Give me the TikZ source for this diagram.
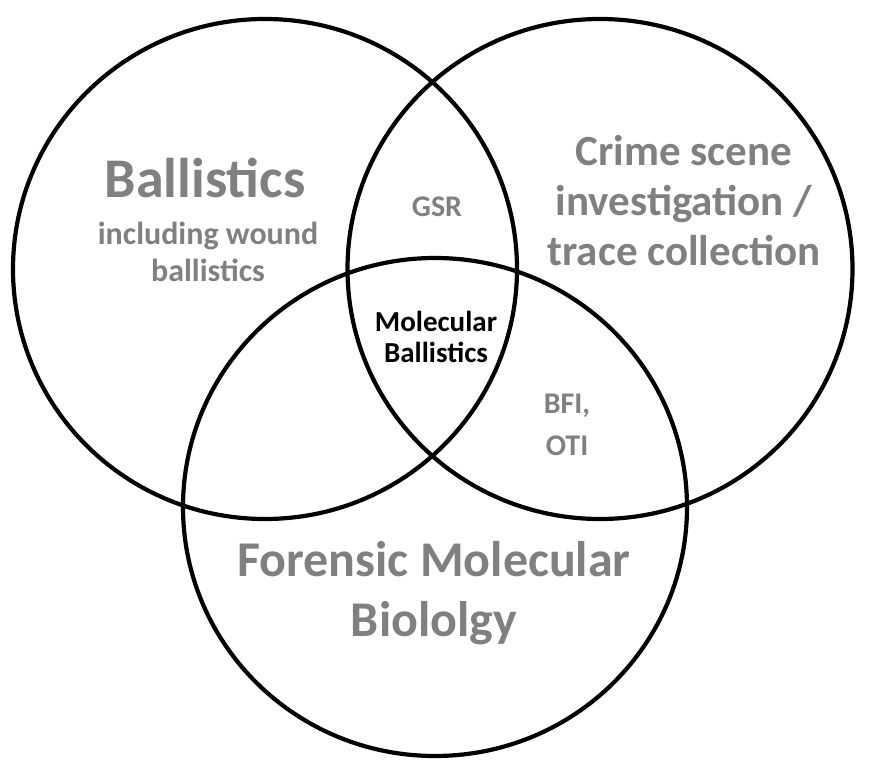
\documentclass[tikz,border=0pt]{standalone}
\usepackage{fontspec}
\setmainfont{Carlito}
\usetikzlibrary{positioning}
\definecolor{labelgray}{RGB}{128,128,128}

\begin{document}
\begin{tikzpicture}[x=1pt, y=1pt,
    ring/.style={line width=4.2pt},
    area/.style={text=labelgray, font=\bfseries, align=center, inner sep=0pt}]
        \useasboundingbox (0,0) rectangle (870,771);

        % Cerchi
        \coordinate (bal) at (265,502);
        \coordinate (csi) at (600,502);
        \coordinate (fmb) at (435,264);
        \draw[ring] (bal) ellipse [x radius=252, y radius=250];
        \draw[ring] (csi) ellipse [x radius=252.5, y radius=250];
        \draw[ring] (fmb) ellipse [x radius=252, y radius=249];

        % Etichette
        \node[area, font=\bfseries\fontsize{56}{60}\selectfont] (ballistics) at (205,593) {Ballistics};
        \node[area, font=\bfseries\fontsize{32}{37}\selectfont] (wound) at (208,519) {including wound\\ballistics};
        \node[area, font=\bfseries\fontsize{43}{50}\selectfont] (crime) at (684,570) {Crime scene\\investigation /\\trace collection};
        \node[area, font=\bfseries\fontsize{30}{36}\selectfont] (gsr) at (437,564) {GSR};
        \node[area, text=black, font=\bfseries\fontsize{29}{31}\selectfont] (molbal) at (436,434) {Molecular\\Ballistics};
        \node[area, font=\bfseries\fontsize{30}{42}\selectfont] (bfi) at (567,346) {BFI,\\OTI};
        \node[area, font=\bfseries\fontsize{50}{60}\selectfont] (forensic) at (434,178) {Forensic Molecular\\Biololgy};
      \end{tikzpicture}
\end{document}
